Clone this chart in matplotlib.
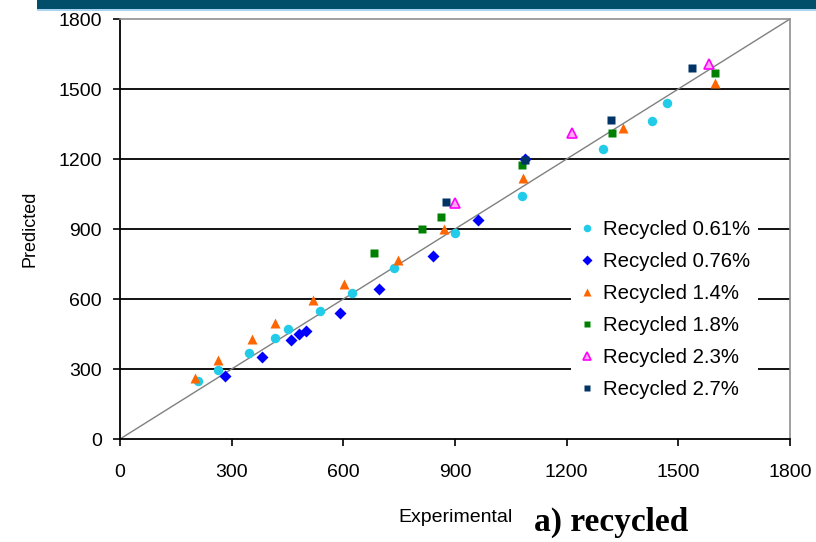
import matplotlib.pyplot as plt
from matplotlib.patches import Rectangle

plt.rcParams['font.family'] = ['Liberation Sans', 'DejaVu Sans']

# Experimental vs predicted values for each recycled-content mix
exp_061 = [210, 264, 347, 416, 452, 538, 622, 737, 900, 1081, 1297, 1429, 1470]
pred_061 = [250, 296, 370, 433, 471, 547, 627, 734, 884, 1043, 1244, 1364, 1439]

exp_076 = [282, 381, 459, 481, 500, 592, 696, 840, 961, 1088]
pred_076 = [271, 353, 426, 450, 461, 541, 644, 786, 940, 1202]

exp_14 = [201, 264, 354, 417, 519, 602, 748, 871, 1083, 1350, 1599]
pred_14 = [263, 339, 429, 498, 596, 663, 767, 901, 1119, 1332, 1526]

exp_18 = [682, 811, 862, 1080, 1322, 1599]
pred_18 = [798, 900, 951, 1174, 1313, 1570]

exp_23 = [900, 1215, 1582]
pred_23 = [1013, 1310, 1607]

exp_27 = [875, 1088, 1319, 1536]
pred_27 = [1014, 1196, 1368, 1591]

ticks = [0, 300, 600, 900, 1200, 1500, 1800]

fig = plt.figure(figsize=(8.16, 5.42), dpi=100)

# banner strip along the top
fig.patches.append(Rectangle((37 / 816, 1 - 9 / 542), 1, 9 / 542, transform=fig.transFigure,
                             facecolor='#004e6a', edgecolor='none', zorder=0))
fig.patches.append(Rectangle((37 / 816, 1 - 11 / 542), 1, 2 / 542, transform=fig.transFigure,
                             facecolor='#a8d4f2', edgecolor='none', zorder=0))

ax = fig.add_axes([120 / 816, 103 / 542, 670 / 816, 420 / 542])

for y in ticks[1:-1]:
    ax.axhline(y, color='black', lw=1.3, zorder=1)
ax.plot([0, 1800], [0, 1800], color='#808080', lw=1, zorder=2)

ax.plot(exp_061, pred_061, 'o', color='#22cce8', ms=6.8, mec='none', label='Recycled 0.61%', zorder=3)
ax.plot(exp_076, pred_076, 'D', color='#0000ff', ms=5.8, mec='none', label='Recycled 0.76%', zorder=3)
ax.plot(exp_14, pred_14, '^', color='#ff6600', ms=7.8, mec='none', label='Recycled 1.4%', zorder=3)
ax.plot(exp_18, pred_18, 's', color='#008000', ms=6.2, mec='none', label='Recycled 1.8%', zorder=3)
ax.plot(exp_23, pred_23, '^', color='#ffaaee', ms=7.2, mec='#ff00ff', mew=1.2, label='Recycled 2.3%', zorder=3)
ax.plot(exp_27, pred_27, 's', color='#003366', ms=6.2, mec='none', label='Recycled 2.7%', zorder=4)

ax.set_xlim(0, 1800)
ax.set_ylim(0, 1800)
ax.set_xticks(ticks)
ax.set_yticks(ticks)
ax.tick_params(labelsize=14, length=5, width=1.2, color='black')
ax.tick_params(axis='x', pad=13)
ax.tick_params(axis='y', pad=8)

for side in ['left', 'bottom']:
    ax.spines[side].set_color('black')
    ax.spines[side].set_linewidth(1.3)
for side in ['top', 'right']:
    ax.spines[side].set_color('#909090')
    ax.spines[side].set_linewidth(1.2)

ax.set_ylabel('Predicted', fontsize=13, labelpad=14)

leg = ax.legend(loc='upper left', bbox_to_anchor=((561 - 120) / 670, (439 - 202) / 420),
                fontsize=14.7, frameon=True, fancybox=False, framealpha=1,
                edgecolor='none', facecolor='white', handlelength=0.7,
                handletextpad=0.45, labelspacing=0.63, borderpad=0.4, markerscale=0.8)
leg.set_zorder(5)

fig.text(456 / 816, 1 - 518 / 542, 'Experimental', fontsize=14, ha='center', va='center')
fig.text(611 / 816, 1 - 522 / 542, 'a) recycled', fontsize=24, fontweight='bold',
         family='Liberation Serif', ha='center', va='center')

fig.savefig('out.png', dpi=100)
